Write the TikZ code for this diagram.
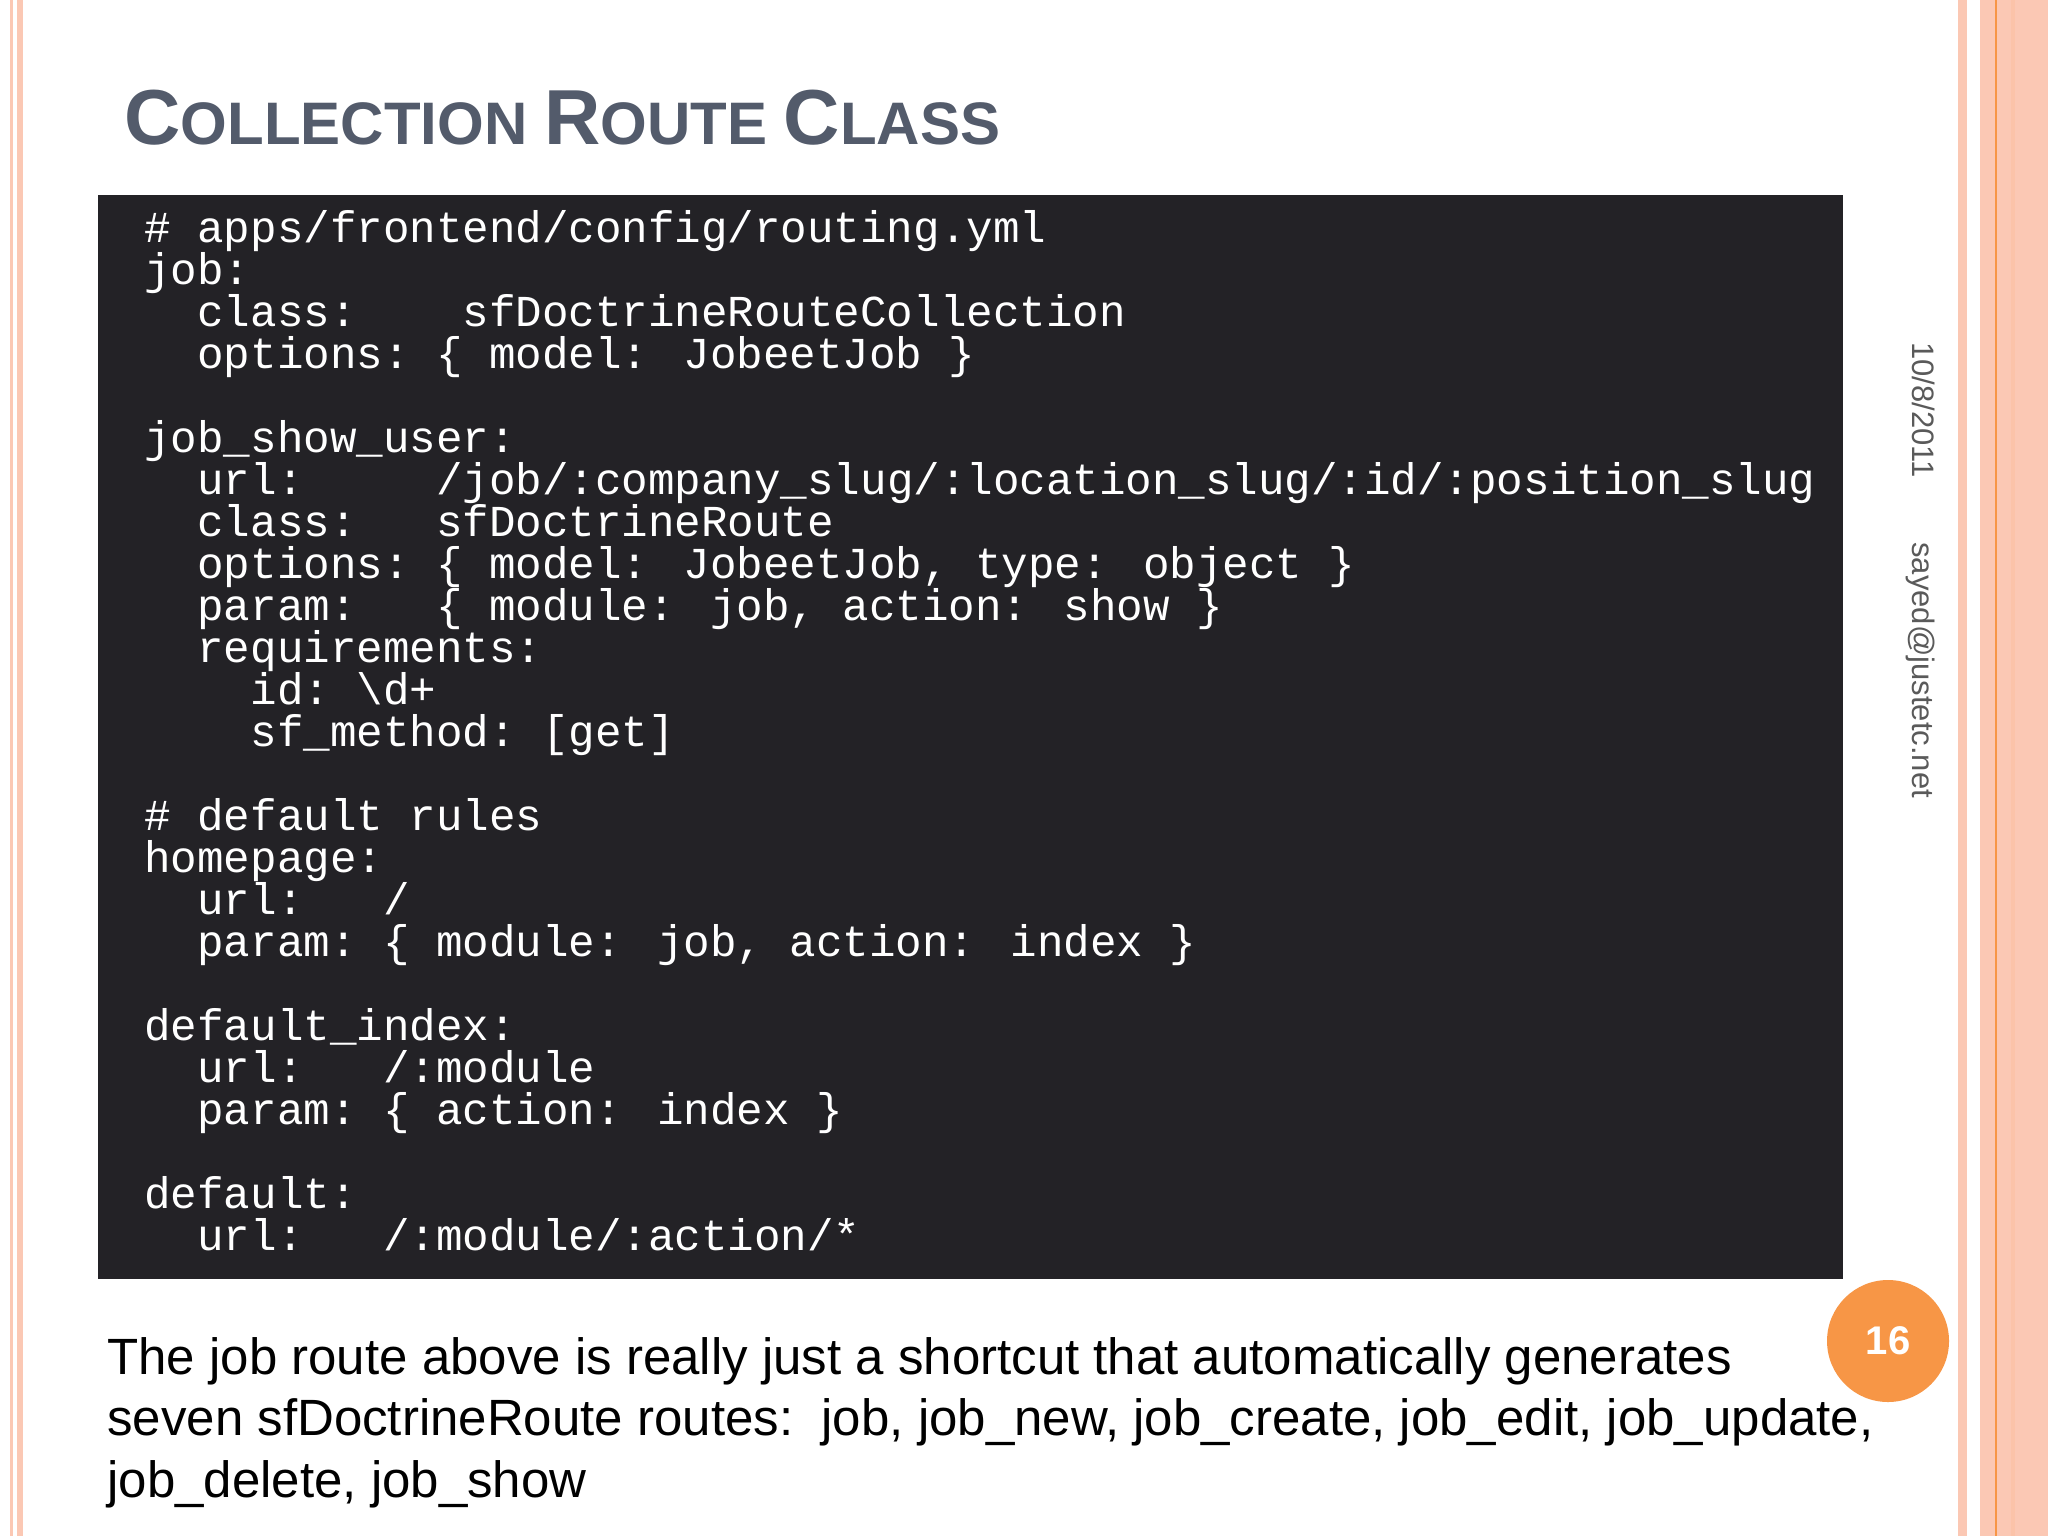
\documentclass[tikz,border=0pt]{standalone}
\usepackage{fontspec}
\setmainfont{Liberation Sans}
\newfontfamily\codefont{Liberation Mono}
\definecolor{pinkb}{HTML}{FBC8B4}
\definecolor{orng}{HTML}{F79646}
\definecolor{titlec}{HTML}{535B6B}
\definecolor{codebg}{HTML}{232226}
\definecolor{sidec}{HTML}{5A5A5A}
\tikzset{codeline/.style={anchor=base west,inner sep=0pt,text=white,font=\codefont\fontsize{22.1}{24}\selectfont}}
\begin{document}
\begin{tikzpicture}[x=0.5pt,y=-0.5pt]
\useasboundingbox (0,0) rectangle (2048,1536);
\fill[white] (0,0) rectangle (2048,1536);
% borders
\fill[pinkb] (10,0) rectangle (13,1536);
\fill[pinkb] (17,0) rectangle (23,1536);
\fill[pinkb] (1958,0) rectangle (1967,1536);
\fill[pinkb] (1980,0) rectangle (2048,1536);
\fill[orng] (1995,0) rectangle (1997,1536);
\fill[pinkb!90!orng] (2011,0) rectangle (2015,1536);
% title
\node[anchor=base west,inner sep=0pt,text=titlec,font=\bfseries] (title) at (124,144)
 {\fontsize{39}{44}\selectfont C\fontsize{30}{34}\selectfont OLLECTION \fontsize{39}{44}\selectfont R\fontsize{30}{34}\selectfont OUTE \fontsize{39}{44}\selectfont C\fontsize{30}{34}\selectfont LASS};
% code box
\fill[codebg] (98,195) rectangle (1843,1279);
\foreach \i/\t in {
0/{\# apps/frontend/config/routing.yml},
1/{job:},
2/{\ \ class:\ \ \ \ sfDoctrineRouteCollection},
3/{\ \ options:\ \{ model: JobeetJob \}},
5/{job\_show\_user:},
6/{\ \ url:\ \ \ \ \ /job/:company\_slug/:location\_slug/:id/:position\_slug},
7/{\ \ class:\ \ \ sfDoctrineRoute},
8/{\ \ options:\ \{ model: JobeetJob, type: object \}},
9/{\ \ param:\ \ \ \{ module: job, action: show \}},
10/{\ \ requirements:},
11/{\ \ \ \ id:\ \textbackslash d+},
12/{\ \ \ \ sf\_method:\ [get]},
14/{\# default rules},
15/{homepage:},
16/{\ \ url:\ \ \ /},
17/{\ \ param:\ \{ module: job, action: index \}},
19/{default\_index:},
20/{\ \ url:\ \ \ /:module},
21/{\ \ param:\ \{ action: index \}},
23/{default:},
24/{\ \ url:\ \ \ /:module/:action/*}}
{\node[codeline] (c\i) at (144,{242+42*\i}) {\obeyspaces\t};}
% side text
\node[rotate=-90,anchor=base west,inner sep=0pt,text=sidec,font=\fontsize{15.5}{18}\selectfont] (date) at (1912,342) {10/8/2011};
\node[rotate=-90,anchor=base west,inner sep=0pt,text=sidec,font=\fontsize{15.5}{18}\selectfont] (mail) at (1912,542) {sayed@justetc.net};
% page number
\node[circle,fill=orng,minimum size=61pt,inner sep=0pt,text=white,font=\bfseries\fontsize{20}{24}\selectfont] (num) at (1888,1341) {16};
% bottom text
\node[anchor=base west,inner sep=0pt,font=\fontsize{25.5}{30}\selectfont] (b1) at (107,1374) {The job route above is really just a shortcut that automatically generates};
\node[anchor=base west,inner sep=0pt,font=\fontsize{25.5}{30}\selectfont] (b2) at (107,1435) {seven sfDoctrineRoute routes:\ \ job, job\_new, job\_create, job\_edit, job\_update,};
\node[anchor=base west,inner sep=0pt,font=\fontsize{25.5}{30}\selectfont] (b3) at (107,1497) {job\_delete, job\_show};
\end{tikzpicture}
\end{document}
